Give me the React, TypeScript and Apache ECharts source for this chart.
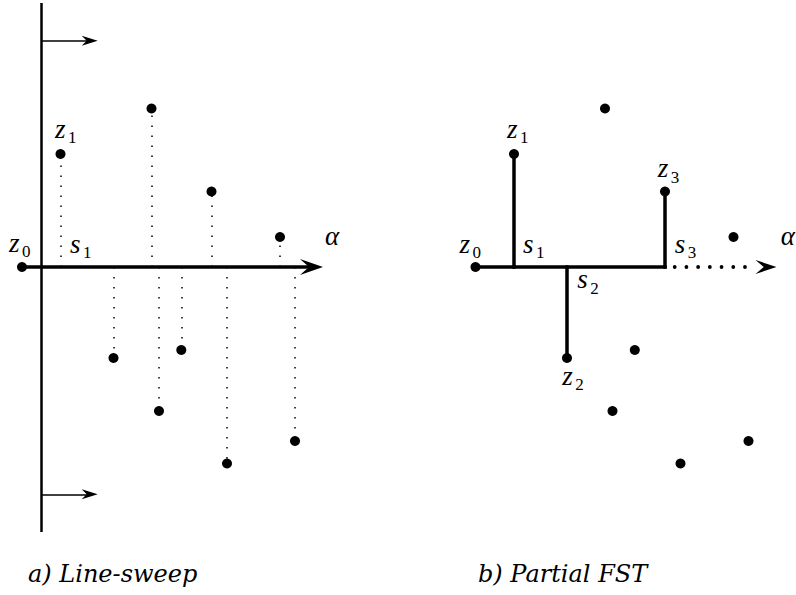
import React, { useEffect, useRef } from "react";
import * as echarts from "echarts";

// ---------------- data ----------------
// Terminal points shared by both panels (origin at z0 on the sweep axis, y upward)
const pointX = [0, 38.5, 129.5, 189.5, 258, 91.5, 137, 159.3, 205, 273];
const pointY = [0, 113, 158.5, 75.5, 30, -91, -144, -83, -196.5, -174];

// Terminal labels in each panel ("" = unlabelled)
const sweepPointLabels = ["z0", "z1", "", "", "", "", "", "", "", ""];
const fstPointLabels = ["z0", "z1", "", "z3", "", "z2", "", "", "", ""];

// Steiner points on the sweep axis of the partial FST, and the terminal each one joins
const steinerX = [38.5, 91.5, 189.5];
const steinerLabels = ["s1", "s2", "s3"];
const steinerTerminal = [1, 5, 3];
const sweepSteinerLabels = ["s1", "", ""];

// Sweep line of panel a, and its direction arrows
const sweepLineX = 19.7;
const sweepLineRange = [-265, 264];
const sweepArrowY = [226.3, -227.3];
const sweepArrowTipX = 75.7;

// Sweep axis (direction alpha)
const axisTipX = 301;
const axisLabel = "α";

const captions = ["a) Line-sweep", "b) Partial FST"];

// ---------------- styles ----------------
const BLACK = "#000";
const MATH_FONT = "Liberation Serif";
const CAPTION_FONT = "DejaVu Serif";
const MAIN_SIZE = 27;
const SUB_SIZE = 17;
const CENTRAL = 0.3375; // central baseline above alphabetic baseline, in em
const SUB_SHIFT: [number, number] = [13, 5.5];
// glyph left / baseline relative to the anchor point, in pixels
const labelOffset: Record<string, [number, number]> = {
  "0:z0": [-13, -15], "0:z1": [-5.5, -16], "0:s1": [9.5, -14], "0:α": [2, -22],
  "1:z0": [-16, -14], "1:z1": [-7, -16], "1:z2": [-4.7, 27], "1:z3": [-7.3, -14],
  "1:s1": [9, -14], "1:s2": [10.3, 21.5], "1:s3": [9.7, -14], "1:α": [4.3, -22],
};
const BIG_ARROW = "path://M0,0L23,8L0,16L9,8Z";
const SMALL_ARROW = "path://M0,0L16,5L0,10L5,5Z";

function seg(x1: number, y1: number, x2: number, y2: number) {
  return { coords: [[x1, y1], [x2, y2]] };
}

function buildOption() {
  const series: any[] = [];
  const ax = (g: number) => ({ xAxisIndex: g, yAxisIndex: g });
  const solid = { color: BLACK, opacity: 1 };

  // ===== panel a: line sweep =====
  series.push({
    type: "lines", coordinateSystem: "cartesian2d", ...ax(0), silent: true,
    lineStyle: { ...solid, width: 2.5 },
    data: [seg(sweepLineX, sweepLineRange[0], sweepLineX, sweepLineRange[1])],
  });
  series.push({
    type: "lines", coordinateSystem: "cartesian2d", ...ax(0), silent: true,
    lineStyle: { ...solid, width: 1.5 },
    data: sweepArrowY.map((y) => seg(sweepLineX, y, sweepArrowTipX - 6, y)),
  });
  series.push({
    type: "scatter", ...ax(0), silent: true,
    symbol: SMALL_ARROW, symbolSize: [16, 10], symbolOffset: [-8, 0],
    itemStyle: solid,
    data: sweepArrowY.map((y) => [sweepArrowTipX, y]),
  });
  // dotted projections onto the sweep axis
  series.push({
    type: "lines", coordinateSystem: "cartesian2d", ...ax(0), silent: true,
    lineStyle: { ...solid, width: 1.5, type: [1.5, 8.5] },
    data: pointX.slice(1).map((x, i) => seg(x, 0, x, pointY[i + 1])),
  });
  // sweep axis
  series.push({
    type: "lines", coordinateSystem: "cartesian2d", ...ax(0), silent: true,
    lineStyle: { ...solid, width: 3.5 },
    data: [seg(0, 0, axisTipX - 10, 0)],
  });
  series.push({
    type: "scatter", ...ax(0), silent: true,
    symbol: BIG_ARROW, symbolSize: [23, 16], symbolOffset: [-11.5, 0],
    itemStyle: solid,
    data: [[axisTipX, 0]],
  });
  series.push({
    type: "scatter", ...ax(0), silent: true,
    symbol: "circle", symbolSize: 10, itemStyle: solid,
    data: pointX.map((x, i) => [x, pointY[i]]),
  });

  // ===== panel b: partial FST =====
  const lastS = steinerX[steinerX.length - 1];
  series.push({
    type: "lines", coordinateSystem: "cartesian2d", ...ax(1), silent: true,
    lineStyle: { ...solid, width: 3.5, cap: "square" },
    data: [
      seg(pointX[0], pointY[0], lastS, 0),
      ...steinerX.map((sx, i) => seg(sx, 0, pointX[steinerTerminal[i]], pointY[steinerTerminal[i]])),
    ],
  });
  series.push({
    type: "lines", coordinateSystem: "cartesian2d", ...ax(1), silent: true,
    lineStyle: { ...solid, width: 3.8, cap: "round", type: [0.01, 11.7], dashOffset: 1.7 },
    data: [seg(lastS, 0, axisTipX - 21, 0)],
  });
  series.push({
    type: "scatter", ...ax(1), silent: true,
    symbol: BIG_ARROW, symbolSize: [21, 14], symbolOffset: [-10.5, 0],
    itemStyle: solid,
    data: [[axisTipX, 0]],
  });
  series.push({
    type: "scatter", ...ax(1), silent: true,
    symbol: "circle", symbolSize: 10, itemStyle: solid,
    data: pointX.map((x, i) => [x, pointY[i]]),
  });

  const hiddenAxis = (min: number, max: number) => ({
    type: "value", min, max, show: false, splitLine: { show: false },
  });

  return {
    animation: false,
    grid: [
      { left: 0, top: 0, width: 400, height: 595 },
      { left: 453.5, top: 0, width: 342.5, height: 595 },
    ],
    xAxis: [hiddenAxis(-22, 378), hiddenAxis(-22, 320.5)].map((a, i) => ({ ...a, gridIndex: i })),
    yAxis: [hiddenAxis(-328, 267), hiddenAxis(-328, 267)].map((a, i) => ({ ...a, gridIndex: i })),
    series,
  };
}

// label anchors: [gridIndex, text, x, y] from the data arrays
function labelAnchors(): [number, string, number, number][] {
  const out: [number, string, number, number][] = [];
  sweepPointLabels.forEach((t, i) => t && out.push([0, t, pointX[i], pointY[i]]));
  sweepSteinerLabels.forEach((t, i) => t && out.push([0, t, steinerX[i], 0]));
  out.push([0, axisLabel, axisTipX, 0]);
  fstPointLabels.forEach((t, i) => t && out.push([1, t, pointX[i], pointY[i]]));
  steinerLabels.forEach((t, i) => out.push([1, t, steinerX[i], 0]));
  out.push([1, axisLabel, axisTipX, 0]);
  return out;
}

function buildGraphic(chart: echarts.ECharts) {
  const els: any[] = [];
  labelAnchors().forEach(([g, text, x, y]) => {
    const [px, py] = chart.convertToPixel({ gridIndex: g } as any, [x, y]) as number[];
    const [dx, dy] = labelOffset[`${g}:${text}`];
    els.push({
      type: "text", x: px + dx, y: py + dy - CENTRAL * MAIN_SIZE, silent: true,
      style: {
        text: text[0], fontFamily: MATH_FONT, fontStyle: "italic", fontSize: MAIN_SIZE,
        fill: BLACK, align: "left", verticalAlign: "middle",
      },
    });
    if (text.length > 1) {
      els.push({
        type: "text", x: px + dx + SUB_SHIFT[0], y: py + dy + SUB_SHIFT[1] - CENTRAL * SUB_SIZE, silent: true,
        style: {
          text: text.slice(1), fontFamily: MATH_FONT, fontSize: SUB_SIZE,
          fill: BLACK, align: "left", verticalAlign: "middle",
        },
      });
    }
  });
  captions.forEach((c, i) => {
    els.push({
      type: "text", x: i === 0 ? 28 : 478, y: 574, silent: true,
      style: {
        text: c, fontFamily: CAPTION_FONT, fontStyle: "italic", fontSize: 24,
        fill: BLACK, verticalAlign: "middle", align: "left",
      },
    });
  });
  return els;
}

export default function App() {
  const ref = useRef<HTMLDivElement>(null);
  useEffect(() => {
    if (!ref.current) return;
    const chart = echarts.init(ref.current, undefined, { renderer: "svg" });
    chart.setOption(buildOption() as any);
    chart.setOption({ graphic: buildGraphic(chart) } as any);
    return () => chart.dispose();
  }, []);
  return (
    <div
      ref={ref}
      style={{ position: "fixed", left: 0, top: 0, width: 796, height: 595, background: "#fff" }}
    />
  );
}
